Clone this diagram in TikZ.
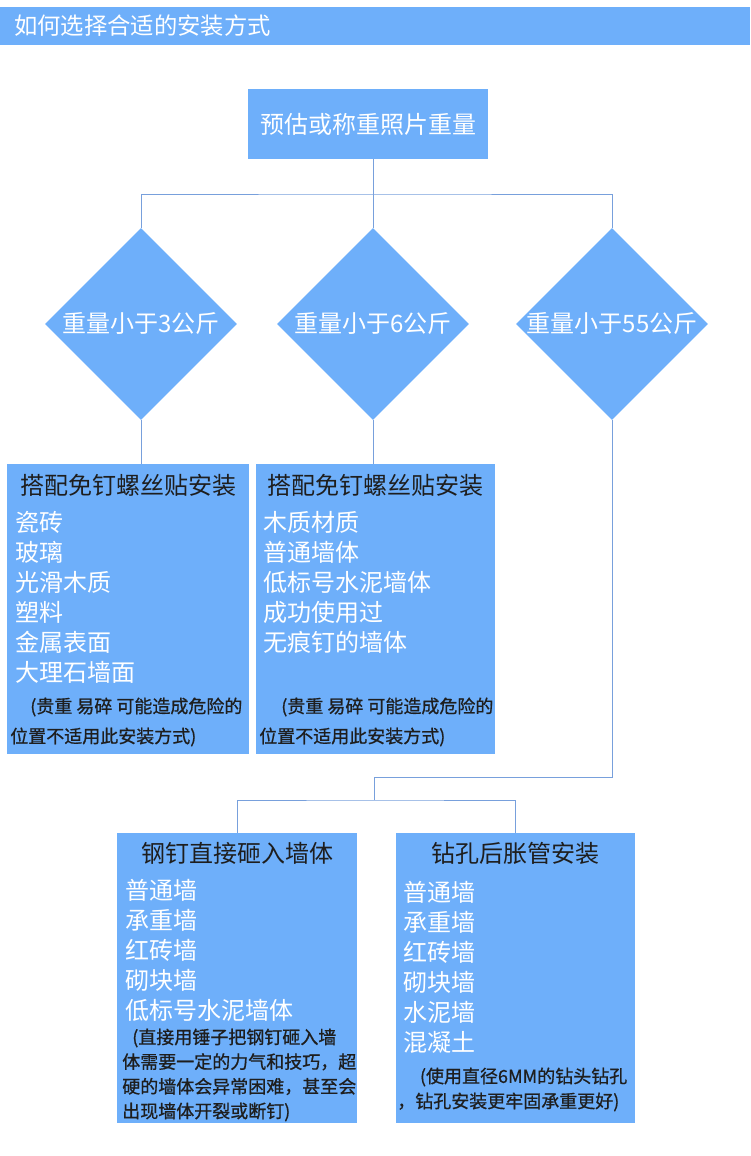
\documentclass[tikz,border=0pt]{standalone}
\usepackage{fontspec}
\setmainfont{Noto Sans CJK SC}
\newfontfamily\notefont[FakeBold=0.8]{Noto Sans CJK SC}
\usepackage{tikz}
\usetikzlibrary{shapes.geometric}

\definecolor{boxblue}{RGB}{110,175,250}
\definecolor{linkblue}{RGB}{120,160,220}
\definecolor{inkdark}{RGB}{30,30,30}

\begin{document}
\begin{tikzpicture}[x=0.75pt,y=-0.75pt]
  \tikzstyle{box}=[rectangle,fill=boxblue,inner sep=0pt]
  \tikzstyle{dia}=[diamond,fill=boxblue,minimum size=144pt,inner sep=0pt,text=white,font=\fontsize{18}{22}\selectfont]
  \tikzstyle{conn}=[draw=linkblue,line width=0.75pt]
  \tikzstyle{head}=[text=inkdark,font=\fontsize{18}{22}\selectfont,inner sep=0pt]
  \tikzstyle{item}=[text=white,font=\fontsize{18}{22.5}\selectfont,align=left,anchor=west,inner sep=0pt]
  \tikzstyle{note}=[text=inkdark,font=\notefont\fontsize{13.5}{22.5}\selectfont,align=left,anchor=west,inner sep=0pt]
  \useasboundingbox[fill=white] (0,0) rectangle (750,1156);

  % header bar
  \node[box,minimum width=562.5pt,minimum height=28.5pt] (bar) at (375,26) {};
  \node[text=white,anchor=west,inner sep=0pt,font=\fontsize{17.5}{21}\selectfont] (title) at (14,26) {如何选择合适的安装方式};

  \node[box,minimum width=180pt,minimum height=52.5pt,text=white,font=\fontsize{18}{22}\selectfont] (est) at (368,124) {预估或称重照片重量};

  \node[dia] (w1) at (141,324) {\makebox[0pt]{重量小于3公斤}};
  \node[dia] (w2) at (373,324) {\makebox[0pt]{重量小于6公斤}};
  \node[dia] (w3) at (612,324) {\makebox[0pt]{重量小于55公斤}};

  \node[box,minimum width=181.5pt,minimum height=217.5pt] (b1) at (128,609) {};
  \node[box,minimum width=179.25pt,minimum height=217.5pt] (b2) at (375.5,609) {};
  \node[box,minimum width=180pt,minimum height=217.5pt] (b3) at (237,978) {};
  \node[box,minimum width=179.25pt,minimum height=217.5pt] (b4) at (515.5,978) {};

  % box texts
  \node[head] (h1) at (128,485) {搭配免钉螺丝贴安装};
  \node[item] (i1) at (15,597) {瓷砖\\玻璃\\光滑木质\\塑料\\金属表面\\大理石墙面};
  \node[note] (n1) at (10,722) {\hspace*{15pt}(贵重 易碎 可能造成危险的\\位置不适用此安装方式)};

  \node[head] (h2) at (375,485) {搭配免钉螺丝贴安装};
  \node[item] (i2) at (263,582) {木质材质\\普通墙体\\低标号水泥墙体\\成功使用过\\无痕钉的墙体};
  \node[note] (n2) at (259,722) {\hspace*{16.5pt}(贵重 易碎 可能造成危险的\\位置不适用此安装方式)};

  \node[head] (h3) at (237,853) {钢钉直接砸入墙体};
  \node[item] (i3) at (125,950) {普通墙\\承重墙\\红砖墙\\砌块墙\\低标号水泥墙体};
  \node[note,font=\notefont\fontsize{13.5}{18.5}\selectfont] (n3) at (122,1075) {\hspace*{7.5pt}(直接用锤子把钢钉砸入墙\\体需要一定的力气和技巧，超\\硬的墙体会异常困难，甚至会\\出现墙体开裂或断钉)};

  \node[head] (h4) at (515,853) {钻孔后胀管安装};
  \node[item] (i4) at (403,967) {普通墙\\承重墙\\红砖墙\\砌块墙\\水泥墙\\混凝土};
  \node[note,font=\notefont\fontsize{13.5}{18.75}\selectfont] (n4) at (397,1089.5) {\hspace*{17pt}(使用直径6MM的钻头钻孔\\，钻孔安装更牢固承重更好)};

  % connectors
  \coordinate (fork) at (373,194);
  \coordinate (turn) at (374,777);
  \coordinate (merge) at (374,800);
  \draw[conn] (est.south -| fork) -- (fork);
  \draw[conn] (w1.north) |- (fork) -| (w3.north);
  \draw[conn] (fork) -- (w2.north);
  \draw[conn] (w1.south) -- (w1.south |- b1.north);
  \draw[conn] (w2.south) -- (w2.south |- b2.north);
  \draw[conn] (w3.south) |- (turn) -- (merge);
  \draw[conn] (b3.north) |- (merge) -| (b4.north);
\end{tikzpicture}
\end{document}
